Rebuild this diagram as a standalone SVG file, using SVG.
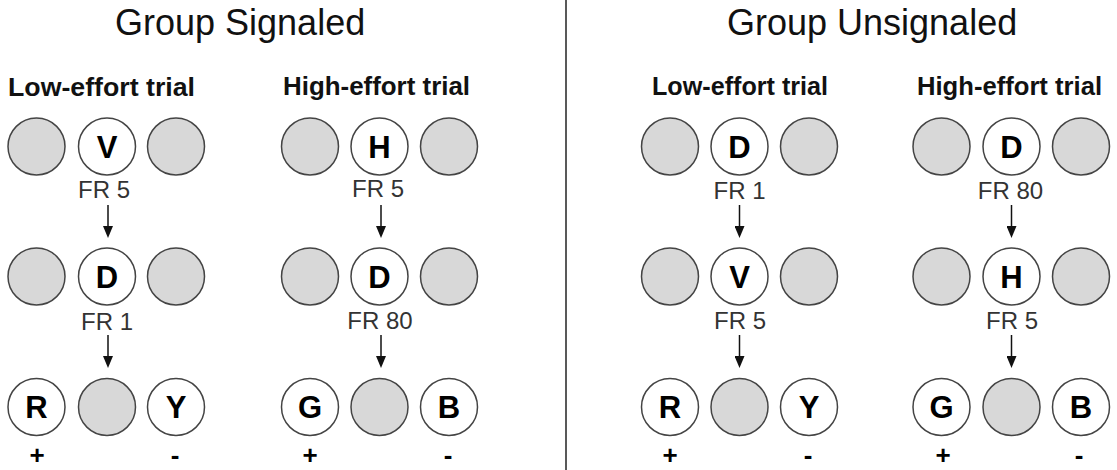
<svg xmlns="http://www.w3.org/2000/svg" width="1117" height="470" viewBox="0 0 1117 470">
<style>
text{font-family:"Liberation Sans",Arial,sans-serif}
.title{font-size:36px;fill:#111}
.sub{font-size:26px;font-weight:bold;fill:#111}
.key circle{stroke:#444;stroke-width:1.5}
.on circle{fill:#fff}
.off circle{fill:#d8d8d8}
.key text{font-size:31px;font-weight:bold;text-anchor:middle;fill:#000}
.fr{font-size:24px;fill:#333;text-anchor:middle}
.sign{font-size:26px;font-weight:bold;text-anchor:middle;fill:#000}
.arr{stroke:#111;stroke-width:1.5;fill:none;marker-end:url(#ah)}
</style>
<defs>
<marker id="ah" markerUnits="userSpaceOnUse" markerWidth="12" markerHeight="10" refX="6" refY="5" orient="auto">
<path d="M0,0 L12,5 L0,10 z" fill="#111"/>
</marker>
</defs>
<rect width="1117" height="470" fill="#fff"/>
<line x1="566" y1="0" x2="566" y2="470" stroke="#222" stroke-width="1.5"/>
<text class="title" x="115" y="35">Group Signaled</text>
<text class="title" x="727" y="35">Group Unsignaled</text>
<text class="sub" x="8" y="96" textLength="187" lengthAdjust="spacingAndGlyphs">Low-effort trial</text>
<text class="sub" x="283" y="95" textLength="187" lengthAdjust="spacingAndGlyphs">High-effort trial</text>
<text class="sub" x="652" y="95" textLength="176" lengthAdjust="spacingAndGlyphs">Low-effort trial</text>
<text class="sub" x="917" y="95" textLength="185" lengthAdjust="spacingAndGlyphs">High-effort trial</text>

<!-- Signaled, low-effort -->
<g id="sl-r1-l" class="key off"><circle cx="36.5" cy="146.5" r="28.5"/></g>
<g id="sl-r1-m" class="key on"><circle cx="107" cy="146.5" r="28.5"/><text x="107" y="158">V</text></g>
<g id="sl-r1-r" class="key off"><circle cx="176" cy="146.5" r="28.5"/></g>
<g id="sl-r2-l" class="key off"><circle cx="36.5" cy="276.5" r="28.5"/></g>
<g id="sl-r2-m" class="key on"><circle cx="107" cy="276.5" r="28.5"/><text x="107" y="288">D</text></g>
<g id="sl-r2-r" class="key off"><circle cx="176" cy="276.5" r="28.5"/></g>
<g id="sl-r3-l" class="key on"><circle cx="36.5" cy="407" r="28.5"/><text x="36.5" y="418">R</text></g>
<g id="sl-r3-m" class="key off"><circle cx="107" cy="407" r="28.5"/></g>
<g id="sl-r3-r" class="key on"><circle cx="176" cy="407" r="28.5"/><text x="176" y="418">Y</text></g>

<!-- Signaled, high-effort -->
<g id="sh-r1-l" class="key off"><circle cx="310" cy="146.5" r="28.5"/></g>
<g id="sh-r1-m" class="key on"><circle cx="379.5" cy="146.5" r="28.5"/><text x="379.5" y="158">H</text></g>
<g id="sh-r1-r" class="key off"><circle cx="449" cy="146.5" r="28.5"/></g>
<g id="sh-r2-l" class="key off"><circle cx="310" cy="276.5" r="28.5"/></g>
<g id="sh-r2-m" class="key on"><circle cx="379.5" cy="276.5" r="28.5"/><text x="379.5" y="288">D</text></g>
<g id="sh-r2-r" class="key off"><circle cx="449" cy="276.5" r="28.5"/></g>
<g id="sh-r3-l" class="key on"><circle cx="310" cy="407" r="28.5"/><text x="310" y="418">G</text></g>
<g id="sh-r3-m" class="key off"><circle cx="379.5" cy="407" r="28.5"/></g>
<g id="sh-r3-r" class="key on"><circle cx="449" cy="407" r="28.5"/><text x="449" y="418">B</text></g>

<!-- Unsignaled, low-effort -->
<g id="ul-r1-l" class="key off"><circle cx="670" cy="146.5" r="28.5"/></g>
<g id="ul-r1-m" class="key on"><circle cx="739.5" cy="146.5" r="28.5"/><text x="739.5" y="158">D</text></g>
<g id="ul-r1-r" class="key off"><circle cx="809" cy="146.5" r="28.5"/></g>
<g id="ul-r2-l" class="key off"><circle cx="670" cy="276.5" r="28.5"/></g>
<g id="ul-r2-m" class="key on"><circle cx="739.5" cy="276.5" r="28.5"/><text x="739.5" y="288">V</text></g>
<g id="ul-r2-r" class="key off"><circle cx="809" cy="276.5" r="28.5"/></g>
<g id="ul-r3-l" class="key on"><circle cx="670" cy="407" r="28.5"/><text x="670" y="418">R</text></g>
<g id="ul-r3-m" class="key off"><circle cx="739.5" cy="407" r="28.5"/></g>
<g id="ul-r3-r" class="key on"><circle cx="809" cy="407" r="28.5"/><text x="809" y="418">Y</text></g>

<!-- Unsignaled, high-effort -->
<g id="uh-r1-l" class="key off"><circle cx="941.5" cy="146.5" r="28.5"/></g>
<g id="uh-r1-m" class="key on"><circle cx="1011.5" cy="146.5" r="28.5"/><text x="1011.5" y="158">D</text></g>
<g id="uh-r1-r" class="key off"><circle cx="1081" cy="146.5" r="28.5"/></g>
<g id="uh-r2-l" class="key off"><circle cx="941.5" cy="276.5" r="28.5"/></g>
<g id="uh-r2-m" class="key on"><circle cx="1011.5" cy="276.5" r="28.5"/><text x="1011.5" y="288">H</text></g>
<g id="uh-r2-r" class="key off"><circle cx="1081" cy="276.5" r="28.5"/></g>
<g id="uh-r3-l" class="key on"><circle cx="941.5" cy="407" r="28.5"/><text x="941.5" y="418">G</text></g>
<g id="uh-r3-m" class="key off"><circle cx="1011.5" cy="407" r="28.5"/></g>
<g id="uh-r3-r" class="key on"><circle cx="1081" cy="407" r="28.5"/><text x="1081" y="418">B</text></g>

<g id="connectors">
<line class="arr" x1="108" y1="205" x2="108" y2="232"/>
<line class="arr" x1="108" y1="335" x2="108" y2="362"/>
<line class="arr" x1="381" y1="205" x2="381" y2="232"/>
<line class="arr" x1="381" y1="335" x2="381" y2="362"/>
<line class="arr" x1="739.5" y1="205" x2="739.5" y2="232"/>
<line class="arr" x1="739.5" y1="335" x2="739.5" y2="362"/>
<line class="arr" x1="1011.5" y1="205" x2="1011.5" y2="232"/>
<line class="arr" x1="1011.5" y1="335" x2="1011.5" y2="362"/>
</g>

<g id="labels">
<text class="fr" x="104" y="198">FR 5</text>
<text class="fr" x="107" y="330">FR 1</text>
<text class="fr" x="378" y="197">FR 5</text>
<text class="fr" x="380" y="329">FR 80</text>
<text class="fr" x="739.5" y="199">FR 1</text>
<text class="fr" x="740" y="329">FR 5</text>
<text class="fr" x="1010.5" y="199">FR 80</text>
<text class="fr" x="1012" y="329">FR 5</text>
<text class="sign" x="37" y="464">+</text>
<text class="sign" x="175" y="464">-</text>
<text class="sign" x="310" y="464">+</text>
<text class="sign" x="448" y="464">-</text>
<text class="sign" x="670" y="464">+</text>
<text class="sign" x="808" y="464">-</text>
<text class="sign" x="943" y="464">+</text>
<text class="sign" x="1079" y="464">-</text>
</g>
</svg>
